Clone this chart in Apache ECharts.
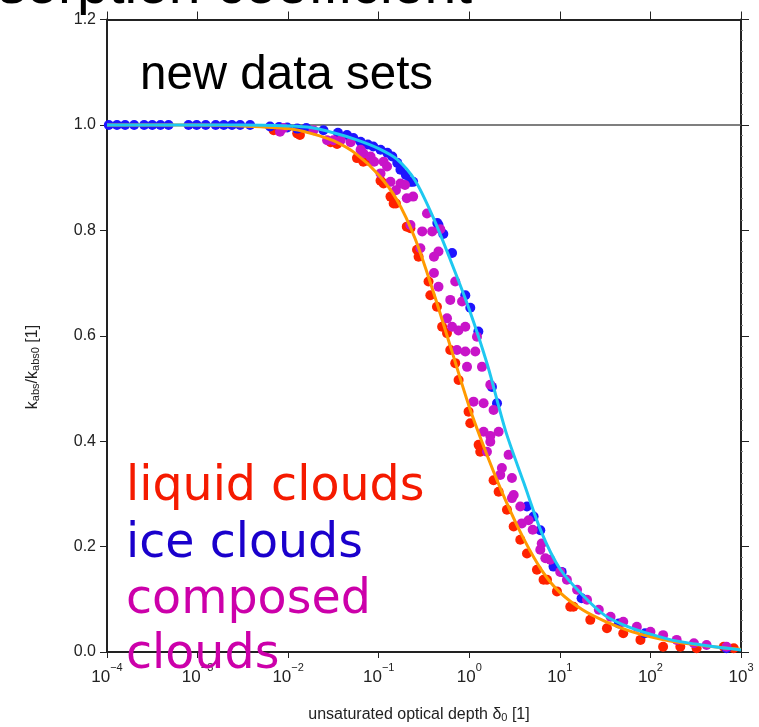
<!DOCTYPE html>
<html>
<head>
<meta charset="utf-8">
<script src="https://cdn.jsdelivr.net/npm/echarts@6/dist/echarts.min.js"></script>
<style>html,body{margin:0;padding:0;background:#fff}#c{width:759px;height:727px}</style>
</head>
<body>
<div id="c"></div>
<script>
// x values are log10(delta), y values are k_abs/k_abs0
var xTicks = [-4, -3, -2, -1, 0, 1, 2, 3];
var yTicks = [0, 0.2, 0.4, 0.6, 0.8, 1.0, 1.2];

var liquidFit = [[-4,1.0],[-3,1.0],[-2.5,0.998],[-2,0.993],[-1.75,0.984],[-1.5,0.970],[-1.25,0.945],[-1,0.905],[-0.8,0.858],[-0.6,0.785],[-0.4,0.685],[-0.2,0.575],[0,0.465],[0.2,0.372],[0.4,0.288],[0.6,0.215],[0.8,0.155],[1,0.113],[1.25,0.080],[1.5,0.058],[1.75,0.041],[2,0.029],[2.25,0.020],[2.5,0.014],[2.75,0.009],[3,0.005]];
var iceFit = [[-4,1.0],[-2.5,1.0],[-2,0.998],[-1.75,0.995],[-1.5,0.985],[-1.25,0.972],[-1,0.955],[-0.8,0.935],[-0.6,0.895],[-0.4,0.825],[-0.2,0.740],[0,0.650],[0.2,0.545],[0.4,0.420],[0.6,0.322],[0.8,0.226],[1,0.158],[1.25,0.108],[1.5,0.069],[1.75,0.048],[2,0.034],[2.25,0.022],[2.5,0.015],[2.75,0.009],[3,0.004]];

var liquidPts = [[-2.16,0.99],[-1.90,0.984],[-1.87,0.981],[-1.53,0.967],[-1.46,0.964],[-1.24,0.937],[-1.17,0.93],[-1.10,0.931],[-0.98,0.894],[-0.946,0.889],[-0.87,0.864],[-0.835,0.851],[-0.81,0.851],[-0.69,0.807],[-0.65,0.804],[-0.577,0.763],[-0.56,0.75],[-0.45,0.703],[-0.43,0.677],[-0.357,0.655],[-0.30,0.617],[-0.246,0.605],[-0.21,0.573],[-0.155,0.548],[-0.118,0.516],[-0.008,0.456],[0.011,0.434],[0.103,0.393],[0.121,0.38],[0.268,0.326],[0.324,0.304],[0.416,0.27],[0.49,0.238],[0.563,0.213],[0.637,0.187],[0.747,0.156],[0.82,0.137],[0.858,0.137],[0.968,0.115],[1.115,0.086],[1.15,0.086],[1.336,0.061],[1.52,0.045],[1.70,0.0355],[1.89,0.023],[2.14,0.010],[2.33,0.010],[2.51,0.007],[2.81,0.010],[2.92,0.007]];

var icePts = [[-3.98,1.0],[-3.89,1.0],[-3.80,1.0],[-3.70,1.0],[-3.59,1.0],[-3.50,1.0],[-3.41,1.0],[-3.32,1.0],[-3.10,1.0],[-3.01,1.0],[-2.91,1.0],[-2.80,1.0],[-2.71,1.0],[-2.62,1.0],[-2.53,1.0],[-2.42,1.0],[-2.20,0.997],[-2.10,0.996],[-2.01,0.995],[-1.90,0.993],[-1.80,0.994],[-1.61,0.99],[-1.45,0.985],[-1.35,0.981],[-1.28,0.975],[-1.20,0.968],[-1.12,0.963],[-1.06,0.959],[-0.98,0.953],[-0.905,0.947],[-0.85,0.94],[-0.795,0.928],[-0.76,0.915],[-0.70,0.905],[-0.65,0.892],[-0.62,0.892],[-0.353,0.814],[-0.34,0.81],[-0.287,0.793],[-0.19,0.757],[-0.044,0.677],[0.011,0.653],[0.10,0.608],[0.25,0.503],[0.306,0.472],[0.637,0.276],[0.71,0.257],[0.784,0.231],[0.93,0.162],[1.02,0.152],[1.24,0.102],[1.65,0.054],[1.94,0.0355],[2.84,0.007]];

var composedPts = [[-2.09,0.987],[-2.05,0.994],[-1.72,0.99],[-1.57,0.971],[-1.50,0.971],[-1.42,0.971],[-1.31,0.967],[-1.20,0.953],[-1.17,0.946],[-1.09,0.94],[-1.05,0.93],[-0.946,0.93],[-0.908,0.921],[-0.98,0.908],[-0.87,0.892],[-0.76,0.889],[-0.71,0.886],[-0.81,0.876],[-0.69,0.861],[-0.62,0.864],[-0.467,0.832],[-0.65,0.81],[-0.52,0.798],[-0.41,0.798],[-0.32,0.802],[-0.54,0.766],[-0.34,0.76],[-0.39,0.75],[-0.39,0.719],[-0.34,0.693],[-0.155,0.703],[-0.21,0.668],[-0.08,0.665],[-0.246,0.633],[-0.19,0.617],[-0.044,0.617],[0.085,0.598],[-0.12,0.61],[-0.136,0.573],[-0.044,0.57],[0.066,0.57],[-0.025,0.541],[0.14,0.541],[0.232,0.507],[0.047,0.475],[0.158,0.472],[0.268,0.459],[0.158,0.418],[0.232,0.41],[0.324,0.418],[0.232,0.399],[0.195,0.38],[0.434,0.374],[0.36,0.349],[0.342,0.336],[0.471,0.33],[0.49,0.298],[0.471,0.292],[0.563,0.276],[0.655,0.25],[0.58,0.244],[0.70,0.232],[0.784,0.194],[0.894,0.175],[0.80,0.206],[0.84,0.178],[1.004,0.152],[1.078,0.137],[1.19,0.118],[1.30,0.099],[1.43,0.08],[1.56,0.067],[1.70,0.0575],[1.85,0.048],[2.0,0.0385],[2.14,0.032],[2.29,0.023],[2.48,0.0165],[2.62,0.0133],[2.84,0.01]];

var refLine = [[-4,1.0],[3,1.0]];

var chart = echarts.init(document.getElementById('c'), null, {renderer:'canvas'});
var axisCol = '#222';
var sans = '"Liberation Sans", Arial, sans-serif';

function xLab(v){
  var s = (v < 0 ? '\u2212' : '') + Math.abs(v);
  return '{b|10}{s|' + s + '}';
}

var option = {
  animation: false,
  backgroundColor: '#fff',
  grid: {left: 107, right: 18, top: 19.5, bottom: 75, containLabel: false},
  xAxis: [{
    type: 'value', min: xTicks[0], max: xTicks[xTicks.length-1], interval: 1, position: 'bottom',
    axisLine: {show: true, onZero: false, lineStyle: {color: axisCol, width: 2}},
    axisTick: {show: true, inside: false, length: 6, lineStyle: {color: axisCol, width: 1}},
    splitLine: {show: false},
    axisLabel: {margin: 10, formatter: xLab, color: '#222',
      rich: {b: {fontSize: 17, fontFamily: sans, color: '#222', lineHeight: 24, verticalAlign: 'bottom'},
             s: {fontSize: 11, fontFamily: sans, color: '#222', lineHeight: 12, verticalAlign: 'top'}}}
  }, {
    type: 'value', min: xTicks[0], max: xTicks[xTicks.length-1], interval: 1, position: 'top',
    axisLine: {show: true, onZero: false, lineStyle: {color: axisCol, width: 2}},
    axisTick: {show: true, inside: false, length: 8, lineStyle: {color: axisCol, width: 1}},
    splitLine: {show: false}, axisLabel: {show: false}
  }],
  yAxis: [{
    type: 'value', min: yTicks[0], max: yTicks[yTicks.length-1], interval: 0.2, position: 'left',
    axisLine: {show: true, onZero: false, lineStyle: {color: axisCol, width: 2}},
    axisTick: {show: true, inside: false, length: 7, lineStyle: {color: axisCol, width: 1}},
    splitLine: {show: false},
    axisLabel: {margin: 11, fontSize: 16, fontFamily: sans, color: '#222', formatter: function(v){return v.toFixed(1);}}
  }, {
    type: 'value', min: yTicks[0], max: yTicks[yTicks.length-1], interval: 0.2, position: 'right',
    axisLine: {show: true, onZero: false, lineStyle: {color: axisCol, width: 2}},
    axisTick: {show: true, inside: false, length: 8, lineStyle: {color: axisCol, width: 1}},
    minorTick: {show: true, splitNumber: 10, length: 2, lineStyle: {color: '#888', width: 1}},
    splitLine: {show: false}, axisLabel: {show: false}
  }],
  series: [
    {type: 'line', data: refLine, symbol: 'none', lineStyle: {color: '#555', width: 1.5}, z: 1, silent: true},
    {type: 'scatter', name: 'liquid', data: liquidPts, symbolSize: 10, itemStyle: {color: '#ff2200', opacity: 1}, z: 2},
    {type: 'scatter', name: 'ice', data: icePts, symbolSize: 10, itemStyle: {color: '#1e14ff', opacity: 1}, z: 3},
    {type: 'scatter', name: 'composed', data: composedPts, symbolSize: 10, itemStyle: {color: '#c814c8', opacity: 1}, z: 4},
    {type: 'line', data: liquidFit, symbol: 'none', smooth: 0.3, lineStyle: {color: '#ff9a00', width: 3}, z: 5},
    {type: 'line', data: iceFit, symbol: 'none', smooth: 0.3, lineStyle: {color: '#1ec8f0', width: 3}, z: 6}
  ],
  graphic: [
    {type: 'text', x: 472, y: -13, z: 100, style: {text: 'Absorption coefficient', fill: '#000', font: '57px "Liberation Sans", Arial, sans-serif', textAlign: 'right', textVerticalAlign: 'middle'}},
    {type: 'text', x: 140, y: 76, z: 100, style: {text: 'new data sets', fill: '#000', font: '47.5px "Liberation Sans", Arial, sans-serif', textAlign: 'left', textVerticalAlign: 'middle'}},
    {type: 'text', x: 126, y: 488, z: 100, style: {text: 'liquid clouds', fill: '#f51a00', font: '47.5px "DejaVu Sans", sans-serif', textAlign: 'left', textVerticalAlign: 'middle'}},
    {type: 'text', x: 126, y: 545, z: 100, style: {text: 'ice clouds', fill: '#1a00cc', font: '47.5px "DejaVu Sans", sans-serif', textAlign: 'left', textVerticalAlign: 'middle'}},
    {type: 'text', x: 126, y: 601, z: 100, style: {text: 'composed', fill: '#cc00aa', font: '47.5px "DejaVu Sans", sans-serif', textAlign: 'left', textVerticalAlign: 'middle'}},
    {type: 'text', x: 126, y: 656, z: 100, style: {text: 'clouds', fill: '#cc00aa', font: '47.5px "DejaVu Sans", sans-serif', textAlign: 'left', textVerticalAlign: 'middle'}},
    {type: 'text', x: 419, y: 715, z: 100, style: {text: 'unsaturated optical depth \u03b4{sub|0} [1]', fill: '#222', font: '16px "Liberation Sans", Arial, sans-serif', textAlign: 'center', textVerticalAlign: 'middle',
      rich: {sub: {fontSize: 11, fontFamily: sans, fill: '#222', verticalAlign: 'bottom', lineHeight: 14}}}},
    {type: 'text', x: 33, y: 367, rotation: Math.PI/2, z: 100, style: {text: 'k{sub|abs}/k{sub|abs0} [1]', fill: '#222', font: '16px "Liberation Sans", Arial, sans-serif', textAlign: 'center', textVerticalAlign: 'middle',
      rich: {sub: {fontSize: 11, fontFamily: sans, fill: '#222', verticalAlign: 'bottom', lineHeight: 14}}}}
  ]
};
chart.setOption(option);
</script>
</body>
</html>
